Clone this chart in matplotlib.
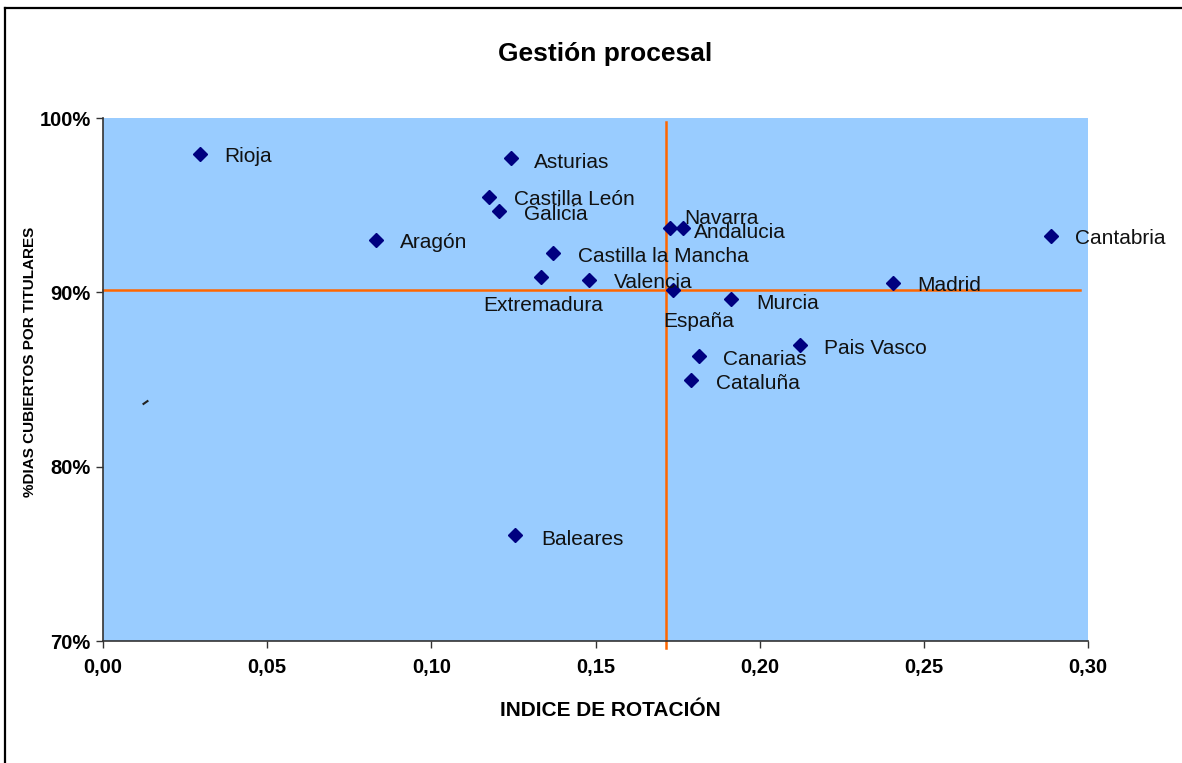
import matplotlib
matplotlib.use("Agg")
import matplotlib.pyplot as plt
from matplotlib.lines import Line2D
from matplotlib.ticker import FuncFormatter

plt.rcParams['font.family'] = ['Liberation Sans', 'DejaVu Sans']

# ---- data ----
regions = ["Rioja", "Asturias", "Castilla León", "Galicia", "Aragón", "Navarra",
           "Andalucia", "Castilla la Mancha", "Cantabria", "Extremadura", "Valencia",
           "Madrid", "España", "Murcia", "Pais Vasco", "Canarias", "Cataluña", "Baleares"]
rotation = [0.0295, 0.1243, 0.1176, 0.1206, 0.0832, 0.1727,
            0.1767, 0.1371, 0.2888, 0.1334, 0.1480,
            0.2406, 0.1736, 0.1913, 0.2123, 0.1815, 0.1791, 0.1255]
pct_titulares = [97.93, 97.70, 95.47, 94.66, 93.00, 93.69,
                 93.69, 92.25, 93.23, 90.88, 90.71,
                 90.53, 90.13, 89.62, 86.98, 86.35, 84.97, 76.08]
stray_x = [0.0128]
stray_y = [83.7]
cross_x = 0.1715
cross_y = 90.13
x_ticks = [0.00, 0.05, 0.10, 0.15, 0.20, 0.25, 0.30]
y_ticks = [70, 80, 90, 100]

# label offsets in pixels (dx, dy, ha)
offsets = {
    "Rioja": (24, -2, "left"),
    "Asturias": (23, -4, "left"),
    "Castilla León": (25, -3, "left"),
    "Galicia": (25, -3, "left"),
    "Aragón": (24, -2, "left"),
    "Navarra": (14, 10, "left"),
    "Andalucia": (11, -4, "left"),
    "Castilla la Mancha": (25, -3, "left"),
    "Cantabria": (24, -2, "left"),
    "Extremadura": (2, -29, "center"),
    "Valencia": (25, -3, "left"),
    "Madrid": (24, -2, "left"),
    "España": (26, -31, "center"),
    "Murcia": (25, -5, "left"),
    "Pais Vasco": (24, -4, "left"),
    "Canarias": (24, -4, "left"),
    "Cataluña": (25, -3, "left"),
    "Baleares": (26, -4, "left"),
}

W, H = 1182, 763
fig = plt.figure(figsize=(W / 100, H / 100), dpi=100)
fig.patch.set_facecolor("white")
ax = fig.add_axes([103 / W, 1 - 641 / H, (1088 - 103) / W, (641 - 118) / H])
ax.set_facecolor("#99CCFF")

ax.set_xlim(0, 0.30)
ax.set_ylim(70, 100)

# crosshair lines (slightly extending like the original)
ax.plot([cross_x, cross_x], [69.6, 99.77], color="#FF6600", lw=1.8,
        clip_on=False, zorder=2)
ax.plot([0.0, 0.2976], [cross_y, cross_y], color="#FF6600", lw=1.8,
        clip_on=False, zorder=2)

ax.plot(rotation, pct_titulares, linestyle="none", marker="D", markersize=7,
        color="#000080", zorder=3, clip_on=False)
ax.plot(stray_x, stray_y, linestyle="none", marker=(2, 0, -55), markersize=5,
        markeredgewidth=1.5, color="#222222", zorder=3)

for name, x, y in zip(regions, rotation, pct_titulares):
    dx, dy, ha = offsets[name]
    ax.annotate(name, (x, y), xytext=(dx, dy), textcoords="offset pixels",
                ha=ha, va="center", fontsize=15, color="#111111",
                annotation_clip=False, zorder=4)

ax.set_xticks(x_ticks)
ax.set_yticks(y_ticks)
ax.xaxis.set_major_formatter(FuncFormatter(lambda v, p: f"{v:.2f}".replace(".", ",")))
ax.yaxis.set_major_formatter(FuncFormatter(lambda v, p: f"{int(round(v))}%"))
for lab in ax.get_xticklabels() + ax.get_yticklabels():
    lab.set_fontweight("bold")
ax.tick_params(axis="both", labelsize=14.5, length=5, width=1, color="#333333",
               direction="out")
ax.tick_params(axis="x", pad=7)
ax.tick_params(axis="y", pad=4)

for s in ["top", "right"]:
    ax.spines[s].set_visible(False)
for s in ["left", "bottom"]:
    ax.spines[s].set_color("#333333")
    ax.spines[s].set_linewidth(1.2)

ax.set_xlabel("INDICE DE ROTACIÓN", fontsize=15, fontweight="bold")
ax.xaxis.set_label_coords((610 - 103) / 985, -(710 - 641) / 523)
ax.xaxis.label.set_va("center")
ax.set_ylabel("%DIAS CUBIERTOS POR TITULARES", fontsize=11, fontweight="bold")
ax.yaxis.set_label_coords(-(103 - 30) / 985, (641 - 362) / 523)
ax.yaxis.label.set_va("center")

fig.text(605 / W, 1 - 54 / H, "Gestión procesal", ha="center", va="center",
         fontsize=19, fontweight="bold")

# outer chart border (left and top)
fig.add_artist(Line2D([5 / W, 5 / W], [0, 1 - 8 / H], transform=fig.transFigure,
                      color="black", lw=1.6))
fig.add_artist(Line2D([5 / W, 1], [1 - 8 / H, 1 - 8 / H], transform=fig.transFigure,
                      color="black", lw=1.6))

fig.savefig("out.png", dpi=100)
